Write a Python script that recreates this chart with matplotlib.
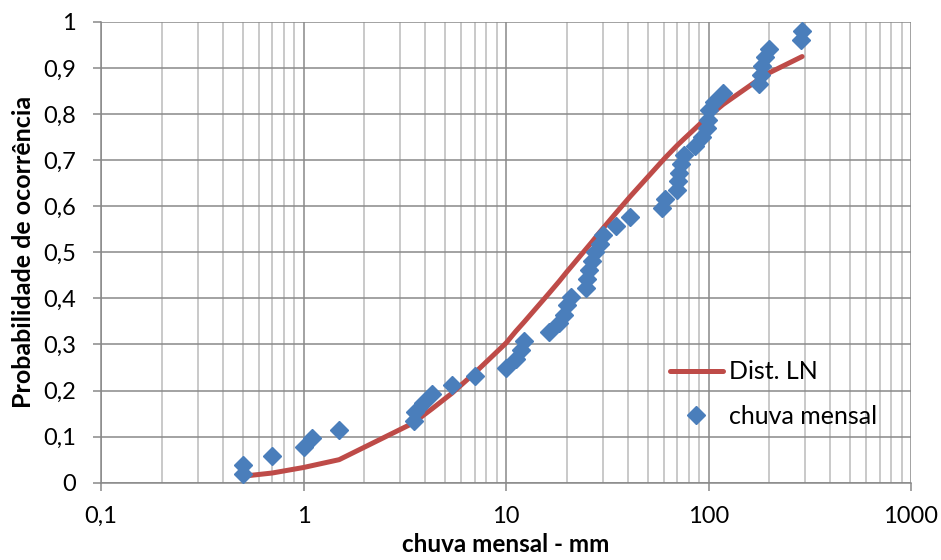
import matplotlib
matplotlib.use("Agg")
import matplotlib.pyplot as plt
from matplotlib.ticker import FixedLocator, FixedFormatter, LogLocator, NullFormatter
import numpy as np

plt.rcParams['font.family'] = ['Lato', 'DejaVu Sans']

chuva_mm = [0.5, 0.5, 0.7, 1.0, 1.1, 1.5, 3.5, 3.55, 3.9, 4.3, 5.4, 7.0,
            10, 11.2, 11.8, 12.3, 16.3, 18.3, 19.3, 20, 21, 24.7, 25, 25.8,
            26.5, 27.5, 29.2, 30, 35, 41, 59, 61, 70, 71, 71.5, 73, 76, 86,
            93, 98, 99, 101, 106, 118, 178, 181, 184, 190, 198, 285, 290]
prob = [0.019, 0.038, 0.058, 0.077, 0.096, 0.115, 0.135, 0.154, 0.173, 0.192,
        0.212, 0.231, 0.25, 0.269, 0.288, 0.308, 0.327, 0.346, 0.365, 0.385,
        0.404, 0.423, 0.442, 0.462, 0.481, 0.5, 0.519, 0.538, 0.558, 0.577,
        0.596, 0.615, 0.635, 0.654, 0.673, 0.692, 0.712, 0.731, 0.75, 0.769,
        0.788, 0.808, 0.827, 0.846, 0.865, 0.885, 0.904, 0.923, 0.942, 0.962,
        0.981]

# curva Dist. LN
ln_x = [0.5, 0.7, 1.0, 1.1, 1.5, 3.5, 3.9, 4.3, 5.4, 7.0, 10, 11.2, 12.3,
        16.3, 18.3, 20, 21, 24.7, 26.5, 29.2, 35, 41, 59, 61, 70, 76, 86,
        93, 101, 106, 118, 178, 190, 198, 290]
ln_y = [0.014, 0.021, 0.033, 0.037, 0.05, 0.13, 0.146, 0.16, 0.194, 0.238,
        0.303, 0.329, 0.349, 0.411, 0.437, 0.458, 0.469, 0.506, 0.522, 0.545,
        0.586, 0.621, 0.698, 0.705, 0.732, 0.747, 0.769, 0.783, 0.796, 0.804,
        0.821, 0.876, 0.884, 0.889, 0.925]

x_ticks = [0.1, 1, 10, 100, 1000]
x_labels = ['0,1', '1', '10', '100', '1000']
y_ticks = [0, 0.1, 0.2, 0.3, 0.4, 0.5, 0.6, 0.7, 0.8, 0.9, 1]
y_labels = ['0', '0,1', '0,2', '0,3', '0,4', '0,5', '0,6', '0,7', '0,8', '0,9', '1']

fig = plt.figure(figsize=(9.41, 5.60), dpi=100)
ax = fig.add_axes([101/941, 1 - 482.7/560, (911 - 101)/941, (482.7 - 22)/560])

ax.plot(ln_x, ln_y, color='#BE4B48', lw=3.6, label='Dist. LN', zorder=3,
        solid_capstyle='round')
ax.plot(chuva_mm, prob, ls='none', marker='D', markersize=9, color='#4A7EBB',
        label='chuva mensal', zorder=4)

ax.set_xscale('log')
ax.set_xlim(0.1, 1000)
ax.set_ylim(0, 1)
ax.xaxis.set_major_locator(FixedLocator(x_ticks))
ax.xaxis.set_major_formatter(FixedFormatter(x_labels))
ax.xaxis.set_minor_locator(LogLocator(base=10, subs=np.arange(2, 10)))
ax.xaxis.set_minor_formatter(NullFormatter())
ax.yaxis.set_major_locator(FixedLocator(y_ticks))
ax.yaxis.set_major_formatter(FixedFormatter(y_labels))

ax.grid(which='major', color='#898989', lw=1.1)
ax.grid(which='minor', axis='x', color='#BBBBBB', lw=1.1)
ax.set_axisbelow(True)

for s in ['top', 'right']:
    ax.spines[s].set_visible(False)
for s in ['left', 'bottom']:
    ax.spines[s].set_color('#898989')
    ax.spines[s].set_linewidth(1.1)

ax.tick_params(which='major', length=6, width=1.1, color='#898989',
               labelsize=17)
ax.tick_params(which='minor', length=0)
ax.tick_params(axis='y', pad=12)
ax.tick_params(axis='x', pad=11)

ax.set_xlabel('chuva mensal - mm', fontsize=17.5, fontweight='bold', labelpad=4)
ax.set_ylabel('Probabilidade de ocorrência', fontsize=18, fontweight='bold',
              labelpad=6)

ax.legend(loc='center left', bbox_to_anchor=(660/941, 1 - 394/560),
          bbox_transform=fig.transFigure, frameon=False, fontsize=18,
          handlelength=2.1, labelspacing=0.85, handletextpad=0.25,
          borderaxespad=0)

fig.savefig('out.png', dpi=100)
